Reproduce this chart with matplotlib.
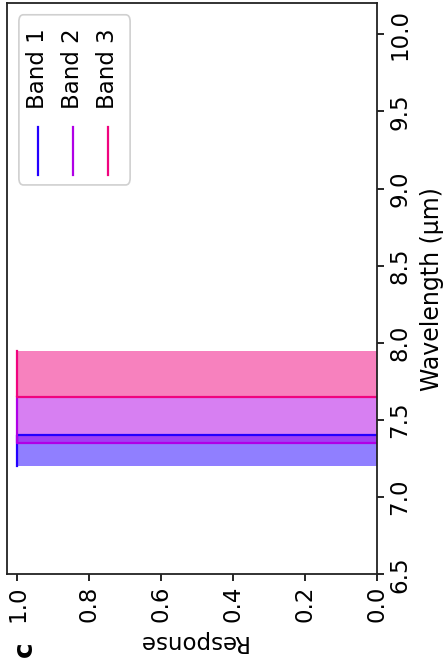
import matplotlib
matplotlib.use("Agg")
import matplotlib.pyplot as plt
from matplotlib.patches import FancyBboxPatch
from matplotlib.lines import Line2D

# Band response curves (wavelength in um, response)
band_names = ["Band 1", "Band 2", "Band 3"]
band_colors = ["#2300ff", "#b000e6", "#f0047f"]
band_lo = [7.20, 7.35, 7.65]
band_hi = [7.40, 7.65, 7.95]
band1_wl = [7.20, 7.40, 7.40]
band1_resp = [1.0, 1.0, 0.0]
band2_wl = [7.35, 7.35, 7.65]
band2_resp = [0.0, 1.0, 1.0]
band3_wl = [7.65, 7.65, 7.95]
band3_resp = [0.0, 1.0, 1.0]
curves_wl = [band1_wl, band2_wl, band3_wl]
curves_resp = [band1_resp, band2_resp, band3_resp]

resp_ticks = [0.0, 0.2, 0.4, 0.6, 0.8, 1.0]
wl_ticks = [6.5, 7.0, 7.5, 8.0, 8.5, 9.0, 9.5, 10.0]

FS = 16.5

plt.rcParams['font.family'] = ['DejaVu Sans']
fig = plt.figure(figsize=(4.44, 6.71), dpi=100)
ax = fig.add_axes([0.015, 0.144, 0.835, 0.851])

# figure is drawn turned a quarter turn: response runs along x, wavelength along y
for wl, resp, lo, hi, c in zip(curves_wl, curves_resp, band_lo, band_hi, band_colors):
    ax.fill_betweenx([lo, hi], 0, 1.0, color=c, alpha=0.5, lw=0)
    ax.plot(resp, wl, color=c, lw=1.6)

ax.set_xlim(1.03, 0.0)
ax.set_ylim(6.5, 10.2)
ax.set_xticks(resp_ticks)
ax.set_xticklabels([f"{v:.1f}" for v in resp_ticks], rotation=90, fontsize=FS)
ax.set_yticks(wl_ticks)
ax.set_yticklabels([f"{v:.1f}" for v in wl_ticks], rotation=90, fontsize=FS, va="center")
ax.yaxis.tick_right()
ax.yaxis.set_label_position("right")
ax.tick_params(length=5, width=1.2, pad=3)
ax.set_xlabel("Response", fontsize=FS, rotation=180, labelpad=6)
ax.set_ylabel("Wavelength (\u00b5m)", fontsize=17, rotation=90, labelpad=6)
for s in ax.spines.values():
    s.set_linewidth(1.3)
    s.set_color("#222222")

# legend, drawn by hand so that its entries read sideways like the rest
box = FancyBboxPatch((0.033, 0.682), 0.30, 0.298, boxstyle="round,pad=0,rounding_size=0.012",
                     transform=ax.transAxes, facecolor="white", edgecolor="#d0d0d0", lw=1.2, zorder=5)
ax.add_patch(box)
for i, (name, c) in enumerate(zip(band_names, band_colors)):
    xc = 0.0845 + i * 0.0944
    ax.add_line(Line2D([xc, xc], [0.699, 0.783], color=c, lw=1.6, transform=ax.transAxes, zorder=6))
    ax.text(xc, 0.815, name, rotation=90, fontsize=FS, ha="center", va="bottom",
            transform=ax.transAxes, zorder=6)

fig.text(0.056, 0.032, "c", rotation=90, fontsize=19, fontweight="bold", ha="center", va="center")

fig.savefig("out.png", dpi=100)
